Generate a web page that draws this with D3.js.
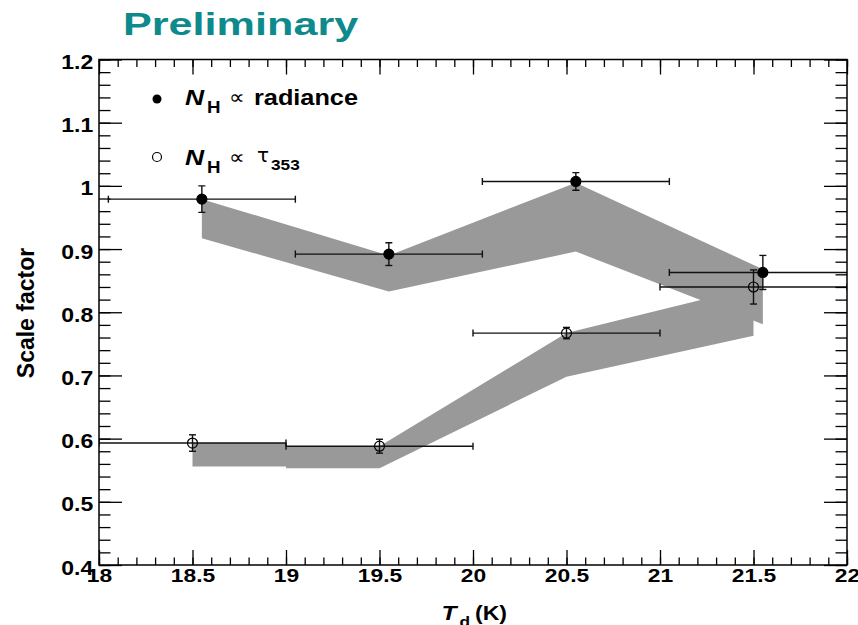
<!DOCTYPE html>
<html>
<head>
<meta charset="utf-8">
<script src="https://cdn.jsdelivr.net/npm/d3@7"></script>
<style>
  body { margin: 0; background: #fff; }
  svg { display: block; }
</style>
</head>
<body>
<svg id="chart" width="858" height="625"></svg>
<script>
// Scale factor vs dust temperature, two N_H tracers
const radianceT = [18.55, 19.55, 20.55, 21.55];
const radianceVal = [0.979, 0.892, 1.007, 0.863];
const radianceErr = [0.021, 0.018, 0.014, 0.027];
const radianceTErr = [0.5, 0.5, 0.5, 0.5];

const tauT = [18.5, 19.5, 20.5, 21.5];
const tauVal = [0.593, 0.588, 0.767, 0.840];
const tauErr = [0.013, 0.011, 0.009, 0.027];
const tauTErr = [0.5, 0.5, 0.5, 0.5];

// Systematic bands
const radianceBandT = [18.55, 19.55, 20.55, 21.55];
const radianceBandHi = [0.979, 0.890, 1.005, 0.868];
const radianceBandLo = [0.917, 0.833, 0.896, 0.781];

const tauBandT = [18.5, 19.0, 19.0, 19.5, 20.5, 21.5];
const tauBandHi = [0.593, 0.593, 0.588, 0.588, 0.767, 0.840];
const tauBandLo = [0.556, 0.556, 0.553, 0.553, 0.698, 0.763];

const xTicks = [18, 18.5, 19, 19.5, 20, 20.5, 21, 21.5, 22];
const xTickLabels = ["18", "18.5", "19", "19.5", "20", "20.5", "21", "21.5", "22"];
const yTicks = [0.4, 0.5, 0.6, 0.7, 0.8, 0.9, 1.0, 1.1, 1.2];
const yTickLabels = ["0.4", "0.5", "0.6", "0.7", "0.8", "0.9", "1", "1.1", "1.2"];

const FONT = "'Liberation Sans', Arial, Helvetica, sans-serif";
const svg = d3.select("#chart");

const frameL = 99, frameR = 847, frameT = 59.5, frameB = 565;
const x = d3.scaleLinear().domain([18, 22]).range([frameL, frameR]);
const y = d3.scaleLinear().domain([0.4, 1.2]).range([frameB, frameT]);

svg.append("defs").append("clipPath").attr("id", "plotclip")
  .append("rect").attr("x", frameL).attr("y", frameT)
  .attr("width", frameR - frameL).attr("height", frameB - frameT);

const plot = svg.append("g").attr("clip-path", "url(#plotclip)");

// bands
function bandData(ts, lo, hi) { return ts.map((t, i) => ({ t, lo: lo[i], hi: hi[i] })); }
const area = d3.area().x(d => x(d.t)).y0(d => y(d.lo)).y1(d => y(d.hi));
plot.append("path").datum(bandData(radianceBandT, radianceBandLo, radianceBandHi))
  .attr("d", area).attr("fill", "#999999");
plot.append("path").datum(bandData(tauBandT, tauBandLo, tauBandHi))
  .attr("d", area).attr("fill", "#999999");

// error bars and markers
function drawSeries(ts, vs, es, tes, filled) {
  const pts = ts.map((t, i) => ({ t, v: vs[i], e: es[i], te: tes[i] }));
  const g = plot.append("g").attr("stroke", "#111").attr("stroke-width", 1.4).attr("fill", "none");
  pts.forEach(p => {
    const cx = x(p.t), cy = y(p.v);
    const x0 = x(p.t - p.te), x1 = x(p.t + p.te);
    const y0 = y(p.v - p.e), y1 = y(p.v + p.e);
    g.append("line").attr("x1", x0).attr("x2", x1).attr("y1", cy).attr("y2", cy);
    g.append("line").attr("x1", x0).attr("x2", x0).attr("y1", cy - 3.5).attr("y2", cy + 3.5);
    g.append("line").attr("x1", x1).attr("x2", x1).attr("y1", cy - 3.5).attr("y2", cy + 3.5);
    g.append("line").attr("x1", cx).attr("x2", cx).attr("y1", y0).attr("y2", y1);
    g.append("line").attr("x1", cx - 3.5).attr("x2", cx + 3.5).attr("y1", y0).attr("y2", y0);
    g.append("line").attr("x1", cx - 3.5).attr("x2", cx + 3.5).attr("y1", y1).attr("y2", y1);
  });
  plot.append("g").selectAll("circle").data(pts).join("circle")
    .attr("cx", d => x(d.t)).attr("cy", d => y(d.v)).attr("r", 5)
    .attr("fill", filled ? "#000" : "none")
    .attr("stroke", "#000").attr("stroke-width", 1.2);
}
drawSeries(tauT, tauVal, tauErr, tauTErr, false);
drawSeries(radianceT, radianceVal, radianceErr, radianceTErr, true);

// axes: ticks point inward on all four sides
function styleAxis(g) {
  g.select(".domain").remove();
  g.selectAll(".tick line").attr("stroke", "#000").attr("stroke-width", 1.3);
}
const xMinor = x.ticks(40), yMinor = y.ticks(40);

svg.append("g").attr("transform", `translate(0,${frameB})`)
  .call(d3.axisBottom(x).tickValues(xMinor).tickSize(-7.5).tickFormat(""))
  .call(styleAxis);
const xAxis = svg.append("g").attr("transform", `translate(0,${frameB})`)
  .call(d3.axisBottom(x).tickValues(xTicks).tickSize(-15).tickPadding(3.5)
    .tickFormat((d, i) => xTickLabels[i]))
  .call(styleAxis);
xAxis.selectAll("text")
  .attr("font-family", FONT).attr("font-weight", "bold").attr("font-size", 19)
  .attr("fill", "#000").attr("transform", "scale(1.2,1)");

svg.append("g").attr("transform", `translate(0,${frameT})`)
  .call(d3.axisTop(x).tickValues(xMinor).tickSize(-7.5).tickFormat(""))
  .call(styleAxis);
svg.append("g").attr("transform", `translate(0,${frameT})`)
  .call(d3.axisTop(x).tickValues(xTicks).tickSize(-15).tickFormat(""))
  .call(styleAxis);

svg.append("g").attr("transform", `translate(${frameL},0)`)
  .call(d3.axisLeft(y).tickValues(yMinor).tickSize(-11.5).tickFormat(""))
  .call(styleAxis);
const yAxis = svg.append("g").attr("transform", `translate(${frameL},0)`)
  .call(d3.axisLeft(y).tickValues(yTicks).tickSize(-23).tickPadding(5)
    .tickFormat((d, i) => yTickLabels[i]))
  .call(styleAxis);
yAxis.selectAll("text")
  .attr("font-family", FONT).attr("font-weight", "bold").attr("font-size", 20)
  .attr("fill", "#000").attr("dy", "0.45em").attr("transform", "scale(1.15,1)");

svg.append("g").attr("transform", `translate(${frameR},0)`)
  .call(d3.axisRight(y).tickValues(yMinor).tickSize(-11.5).tickFormat(""))
  .call(styleAxis);
svg.append("g").attr("transform", `translate(${frameR},0)`)
  .call(d3.axisRight(y).tickValues(yTicks).tickSize(-23).tickFormat(""))
  .call(styleAxis);

// frame
svg.append("rect").attr("x", frameL).attr("y", frameT)
  .attr("width", frameR - frameL).attr("height", frameB - frameT)
  .attr("fill", "none").attr("stroke", "#000").attr("stroke-width", 1.5);

// text helper with horizontal stretch
function label(px, py, s, o = {}) {
  return svg.append("text")
    .attr("transform", `translate(${px},${py}) scale(${o.sx || 1},1)`)
    .attr("font-family", o.family || FONT)
    .attr("font-weight", o.weight || "bold")
    .attr("font-style", o.style || "normal")
    .attr("font-size", o.size || 20)
    .attr("fill", o.fill || "#000")
    .attr("text-anchor", o.anchor || "start")
    .text(s);
}

// title
label(123, 35, "Preliminary", { size: 32, sx: 1.35, fill: "#0e8a8c" });

// axis titles
label(441.5, 620, "T", { size: 21, style: "italic", sx: 1.17 });
label(459.5, 627, "d", { size: 15, sx: 1.15 });
label(475, 620, "(K)", { size: 21, sx: 1.1 });
svg.append("text")
  .attr("transform", "translate(33.5,313) rotate(-90)")
  .attr("font-family", FONT).attr("font-weight", "bold").attr("font-size", 23)
  .attr("text-anchor", "middle").attr("fill", "#000")
  .text("Scale factor");

// legend
svg.append("circle").attr("cx", 157).attr("cy", 99).attr("r", 4.5).attr("fill", "#000");
svg.append("circle").attr("cx", 157).attr("cy", 157).attr("r", 4.5)
  .attr("fill", "none").attr("stroke", "#000").attr("stroke-width", 1.2);

label(185, 105, "N", { size: 22, style: "italic", sx: 1.2 });
label(207, 113, "H", { size: 17, sx: 1.1 });
label(229, 104, "\u221D", { size: 20, weight: "normal", family: "'DejaVu Sans', sans-serif", sx: 1.1 });
label(254, 105, "radiance", { size: 22, sx: 1.15 });

label(185, 165, "N", { size: 22, style: "italic", sx: 1.2 });
label(207, 173, "H", { size: 17, sx: 1.1 });
label(229, 164, "\u221D", { size: 20, weight: "normal", family: "'DejaVu Sans', sans-serif", sx: 1.1 });
label(257, 162, "\u03C4", { size: 20, weight: "normal", family: "'DejaVu Sans', sans-serif" });
label(271, 170, "353", { size: 15, sx: 1.15 });
</script>
</body>
</html>
